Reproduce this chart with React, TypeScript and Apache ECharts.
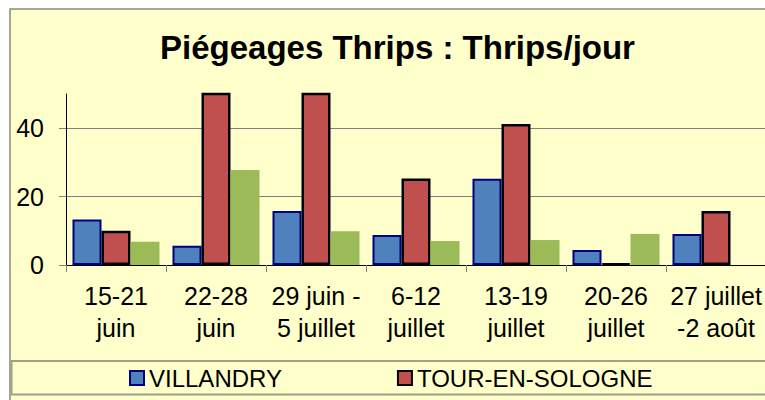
import React, { useEffect, useRef } from "react";
import * as echarts from "echarts";

const categories = [
  "15-21\njuin",
  "22-28\njuin",
  "29 juin -\n5 juillet",
  "6-12\njuillet",
  "13-19\njuillet",
  "20-26\njuillet",
  "27 juillet\n-2 août",
];
const villandry = [13.3, 5.6, 15.8, 8.8, 25.2, 4.4, 9.1];
const tourEnSologne = [10.0, 66, 72, 25.3, 41.2, 0.4, 15.8];
const serie3 = [6.8, 27.8, 9.9, 7.0, 7.3, 9.1, null];
const yTicks = [0, 20, 40];

const FONT = '"Liberation Sans", Arial, sans-serif';

export default function App() {
  const ref = useRef<HTMLDivElement>(null);
  useEffect(() => {
    if (!ref.current) return;
    const chart = echarts.init(ref.current, undefined, { renderer: "svg" });
    chart.setOption({
      animation: false,
      backgroundColor: "transparent",
      title: {
        text: "Piégeages Thrips : Thrips/jour",
        left: "center",
        top: 31,
        padding: 0,
        textStyle: { fontFamily: FONT, fontSize: 33, fontWeight: "bold", color: "#000" },
      },
      graphic: [
        {
          type: "rect",
          z: -10,
          silent: true,
          shape: { x: 10, y: 9, width: 800, height: 500 },
          style: { fill: "#FFFFCC", stroke: "#8a8a78", lineWidth: 1.5 },
        },
        {
          type: "rect",
          z: -5,
          silent: true,
          shape: { x: 11.5, y: 361, width: 800, height: 33.5 },
          style: { fill: "#FFFFCC", stroke: "#a0a088", lineWidth: 2 },
        },
      ],
      legend: {
        data: ["VILLANDRY", "TOUR-EN-SOLOGNE"],
        left: 129,
        top: 366,
        padding: 0,
        itemGap: 115,
        itemWidth: 14,
        itemHeight: 14,
        icon: "rect",
        textStyle: { fontFamily: FONT, fontSize: 24, color: "#000", padding: [0, 0, 0, 0] },
      },
      grid: { left: 66, top: 94, width: 700, height: 171, containLabel: false },
      xAxis: {
        type: "category",
        data: categories,
        axisLine: { lineStyle: { color: "#000", width: 1 } },
        axisTick: { show: true, interval: 0, length: 7, lineStyle: { color: "#808080" } },
        axisLabel: {
          interval: 0,
          margin: 15,
          fontFamily: FONT,
          fontSize: 25,
          lineHeight: 32,
          color: "#000",
        },
      },
      yAxis: {
        type: "value",
        min: 0,
        max: 50,
        interval: 20,
        axisLine: { show: true, lineStyle: { color: "#000", width: 1 } },
        axisTick: { show: true, length: 7, customValues: yTicks, lineStyle: { color: "#808080" } },
        axisLabel: {
          customValues: yTicks,
          margin: 22,
          fontFamily: FONT,
          fontSize: 25,
          color: "#000",
        },
        splitLine: {
          show: true,
          showMinLine: false,
          lineStyle: { color: "#808080", width: 1 },
        },
      },
      series: [
        {
          name: "VILLANDRY",
          type: "bar",
          data: villandry,
          barGap: "0%",
          barCategoryGap: "13%",
          itemStyle: { color: "#4F81BD", borderColor: "#000080", borderWidth: 2 },
        },
        {
          name: "TOUR-EN-SOLOGNE",
          type: "bar",
          data: tourEnSologne,
          barGap: "0%",
          barCategoryGap: "13%",
          itemStyle: { color: "#C0504D", borderColor: "#000000", borderWidth: 2.5 },
        },
        {
          name: "Série 3",
          type: "bar",
          data: serie3,
          barGap: "0%",
          barCategoryGap: "13%",
          itemStyle: { color: "#9BBB59", borderWidth: 0 },
        },
      ],
    });
    return () => chart.dispose();
  }, []);
  return (
    <div
      style={{
        position: "fixed",
        left: 0,
        top: 0,
        width: 765,
        height: 400,
        overflow: "hidden",
        background: "#fff",
      }}
    >
      <div ref={ref} style={{ width: 795, height: 420 }} />
    </div>
  );
}
